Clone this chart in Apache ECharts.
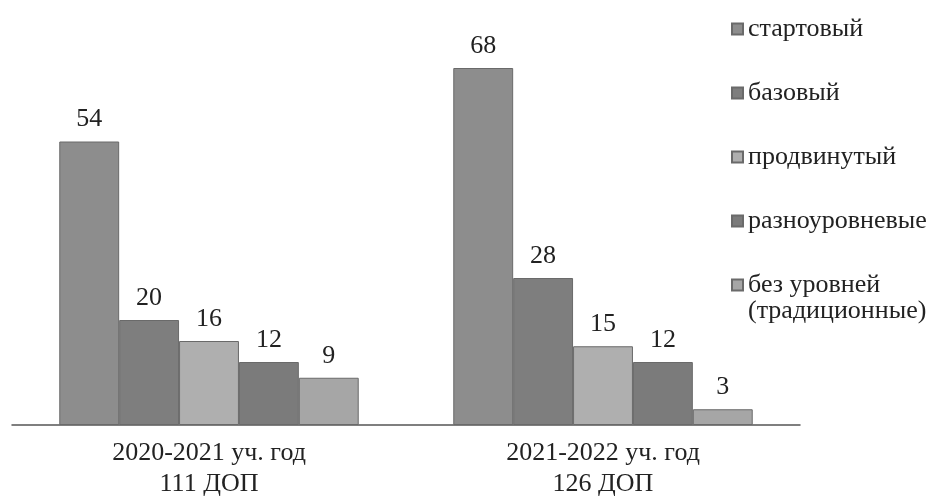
<!DOCTYPE html>
<html><head><meta charset="utf-8">
<script src="https://cdn.jsdelivr.net/npm/echarts@6/dist/echarts.min.js"></script>
<style>html,body{margin:0;padding:0;background:#fff}#c{width:934px;height:504px}</style>
</head><body><div id="c"></div>
<script>
const categories = ['2020-2021 уч. год\n111 ДОП', '2021-2022 уч. год\n126 ДОП'];
const seriesNames = ['стартовый', 'базовый', 'продвинутый', 'разноуровневые', 'без уровней'];
const legendNote = '(традиционные)';
const startValues = [54, 68];
const baseValues = [20, 28];
const advancedValues = [16, 15];
const multiValues = [12, 12];
const noLevelValues = [9, 3];
const seriesValues = [startValues, baseValues, advancedValues, multiValues, noLevelValues];
const colors = ['#8d8d8d', '#7e7e7e', '#afafaf', '#7b7b7b', '#a6a6a6'];

const font = 'Liberation Serif';
const chart = echarts.init(document.getElementById('c'));
chart.setOption({
  animation: false,
  color: colors,
  grid: { left: 12, right: 134, top: 5, bottom: 79 },
  legend: {
    orient: 'vertical', left: 726, top: 10, itemGap: 36,
    itemWidth: 11, itemHeight: 11, icon: 'rect',
    textStyle: { fontFamily: font, fontSize: 26, color: '#222', lineHeight: 28 },
    data: seriesNames
  },
  graphic: [{
    type: 'text', left: 748, top: 298,
    style: { text: legendNote, font: '26px "Liberation Serif"', fill: '#222' }
  }],
  xAxis: {
    type: 'category', data: categories,
    axisLine: { lineStyle: { color: '#555', width: 1.5 } },
    axisTick: { show: false },
    axisLabel: { fontFamily: font, fontSize: 26, color: '#222', lineHeight: 31, margin: 13 }
  },
  yAxis: { type: 'value', min: 0, max: 80, show: false, splitLine: { show: false } },
  series: seriesNames.map((n, i) => ({
    name: n, type: 'bar', data: seriesValues[i],
    barGap: '0%', barCategoryGap: '24%',
    itemStyle: { color: colors[i], borderColor: '#6a6a6a', borderWidth: 1 },
    label: { show: true, position: 'top', distance: 9, fontFamily: font, fontSize: 26, color: '#222' }
  }))
});
</script></body></html>
